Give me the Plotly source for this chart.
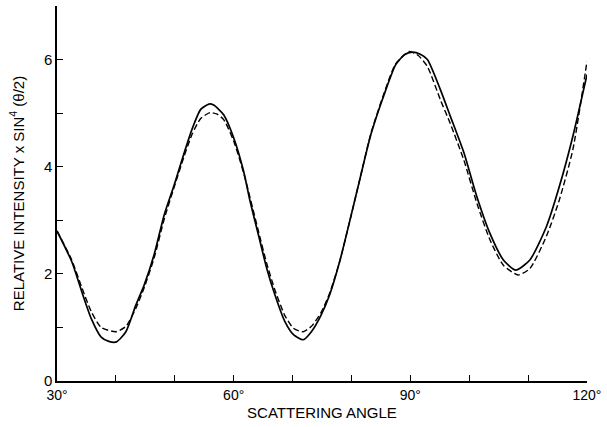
import plotly.graph_objects as go

# Solid curve (measured)
angle_solid = [30.0, 32.5, 34.2, 35.8, 37.5, 38.8, 40.1, 41.7, 43.4, 44.8, 46.5, 48.2, 49.9,
               51.6, 53.0, 54.4, 55.8, 56.6, 58.3, 60.0, 61.7, 62.8, 64.2, 65.6, 67.0, 68.7,
               70.2, 71.8, 73.2, 74.8, 76.3, 78.0, 79.7, 81.5, 83.3, 85.5, 87.5, 89.0, 90.3,
               91.7, 92.9, 95.1, 96.8, 99.1, 101.3, 103.5, 105.8, 107.9, 110.3, 113.1, 115.3,
               117.6, 120.0]
intensity_solid = [2.80, 2.23, 1.67, 1.17, 0.82, 0.74, 0.73, 0.92, 1.42, 1.79, 2.36, 3.10, 3.66,
                   4.26, 4.72, 5.07, 5.17, 5.15, 4.97, 4.54, 3.91, 3.35, 2.73, 2.11, 1.61, 1.11,
                   0.86, 0.77, 0.92, 1.22, 1.61, 2.23, 2.98, 3.80, 4.60, 5.33, 5.90, 6.09, 6.14,
                   6.10, 6.00, 5.44, 4.94, 4.26, 3.44, 2.76, 2.26, 2.07, 2.26, 2.88, 3.63,
                   4.57, 5.72]

# Dashed curve (calculated)
angle_dashed = [30.0, 32.5, 34.2, 35.8, 37.5, 40.0, 41.7, 43.4, 44.8, 46.5, 48.2, 49.9, 51.6,
                53.0, 54.4, 56.0, 57.2, 58.3, 60.0, 61.7, 64.2, 65.6, 67.0, 68.7, 70.2, 71.8,
                73.2, 74.8, 76.3, 78.0, 79.7, 81.5, 83.3, 85.5, 87.5, 89.8, 91.3, 92.9, 95.1,
                96.8, 99.1, 101.3, 103.5, 105.8, 108.3, 110.3, 113.1, 115.3, 117.6, 120.0]
intensity_dashed = [2.80, 2.26, 1.75, 1.30, 1.00, 0.92, 1.02, 1.36, 1.74, 2.30, 3.02, 3.62, 4.20,
                    4.62, 4.90, 5.01, 4.98, 4.88, 4.48, 3.88, 2.80, 2.20, 1.70, 1.22, 0.98, 0.92,
                    1.02, 1.27, 1.64, 2.23, 2.98, 3.80, 4.62, 5.36, 5.92, 6.15, 6.08, 5.87, 5.25,
                    4.80, 4.12, 3.32, 2.64, 2.16, 1.98, 2.10, 2.70, 3.38, 4.32, 5.97]

x_tickvals = [30, 60, 90, 120]
x_ticktext = ["30°", "60°", "90°", "120°"]
y_tickvals = [0, 2, 4, 6]
y_ticktext = ["0", "2", "4", "6"]

font_family = "Liberation Sans, Arial, sans-serif"

fig = go.Figure()
fig.add_trace(go.Scatter(x=angle_dashed, y=intensity_dashed, mode="lines",
                         line=dict(color="black", width=1.4, dash="6px,3px", shape="spline", smoothing=0.6),
                         showlegend=False, hoverinfo="skip"))
fig.add_trace(go.Scatter(x=angle_solid, y=intensity_solid, mode="lines",
                         line=dict(color="black", width=1.7, shape="spline", smoothing=0.6),
                         showlegend=False, hoverinfo="skip"))

fig.update_layout(
    width=607, height=427,
    margin=dict(l=57, r=16, t=6, b=46),
    paper_bgcolor="white", plot_bgcolor="white",
    font=dict(family=font_family, color="black", size=14),
    xaxis=dict(
        range=[30, 120], tickvals=x_tickvals, ticktext=x_ticktext,
        ticks="inside", ticklen=6, tickwidth=1, tickcolor="black",
        minor=dict(dtick=10, tick0=30, ticks="inside", ticklen=6, tickwidth=1, tickcolor="black"),
        showline=True, linecolor="black", linewidth=1.5,
        showgrid=False, zeroline=False,
        tickfont=dict(size=14),
        title=dict(text="SCATTERING ANGLE", font=dict(size=15), standoff=6),
    ),
    yaxis=dict(
        range=[0, 7], tickvals=y_tickvals, ticktext=y_ticktext,
        ticks="inside", ticklen=6, tickwidth=1, tickcolor="black",
        minor=dict(dtick=1, tick0=0, ticks="inside", ticklen=6, tickwidth=1, tickcolor="black"),
        showline=True, linecolor="black", linewidth=1.5,
        showgrid=False, zeroline=False,
        tickfont=dict(size=15),
        title=dict(text="RELATIVE INTENSITY x SIN<sup>4</sup> (θ/2)", font=dict(size=15), standoff=16),
    ),
)

fig.write_html("out.html")
